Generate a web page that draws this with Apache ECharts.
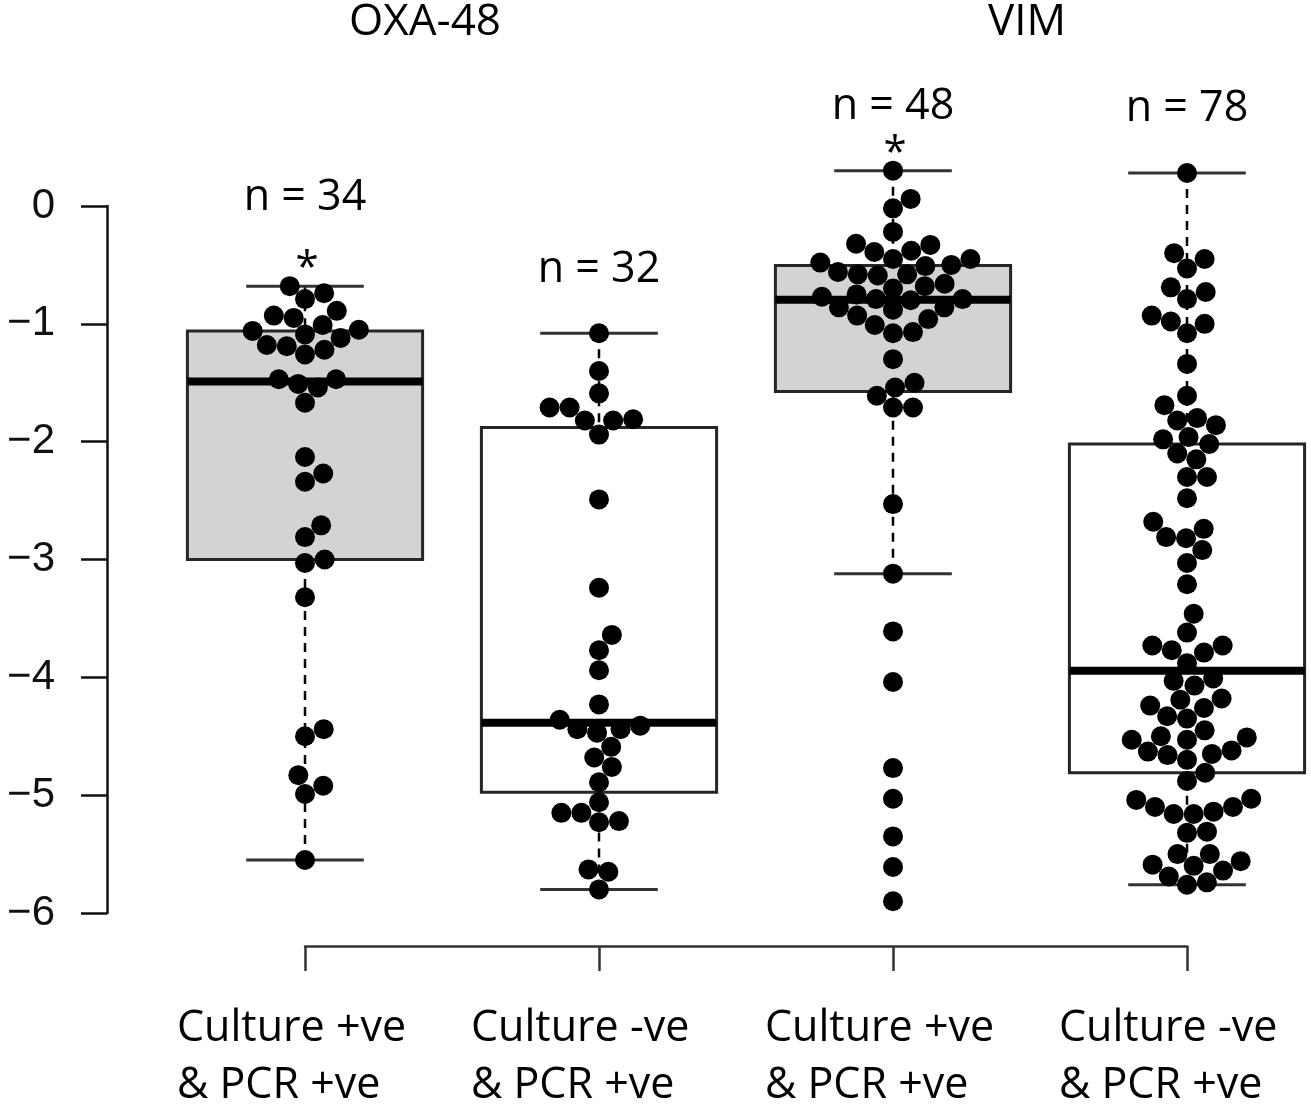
<!DOCTYPE html>
<html>
<head>
<meta charset="utf-8">
<script src="https://cdn.jsdelivr.net/npm/echarts@6/dist/echarts.min.js"></script>
<style>
  html, body { margin: 0; padding: 0; background: #fff; }
  #chart { width: 1311px; height: 1109px; }
</style>
</head>
<body>
<div id="chart"></div>
<script>
// group labels on the x axis
var categories = ['Culture +ve\n& PCR +ve', 'Culture -ve\n& PCR +ve', 'Culture +ve\n& PCR +ve', 'Culture -ve\n& PCR +ve'];
var panelTitles = ['OXA-48', 'VIM'];
var stars = ['*', '', '*', ''];
var boxFills = ['#d3d3d3', '#ffffff', '#d3d3d3', '#ffffff'];
var nLabelGap = [88, 64, 64, 64];
var yTicks = [0, -1, -2, -3, -4, -5, -6];

// values (log scale)
var oxaCulturePos = [
  -0.68, -0.74, -0.79, -0.89, -0.93, -0.95, -1.01, -1.05, -1.06, -1.09, -1.12,
  -1.18, -1.19, -1.22, -1.26, -1.47, -1.47, -1.51, -1.54, -1.67, -2.13, -2.27,
  -2.34, -2.71, -2.81, -3.00, -3.03, -3.32, -4.44, -4.50, -4.83, -4.92, -4.99, -5.55
];
var oxaCultureNeg = [
  -1.08, -1.40, -1.59, -1.71, -1.71, -1.81, -1.82, -1.82, -1.94, -2.49, -3.24,
  -3.64, -3.77, -3.94, -4.23, -4.36, -4.41, -4.44, -4.44, -4.47, -4.59, -4.68,
  -4.76, -4.89, -5.06, -5.15, -5.15, -5.22, -5.23, -5.63, -5.65, -5.80
];
var vimCulturePos = [
  0.30, 0.06, -0.02, -0.22, -0.32, -0.33, -0.38, -0.39, -0.45, -0.45, -0.48,
  -0.50, -0.51, -0.56, -0.58, -0.58, -0.59, -0.66, -0.68, -0.70, -0.75, -0.77,
  -0.79, -0.79, -0.80, -0.86, -0.86, -0.88, -0.93, -0.96, -1.01, -1.07, -1.08,
  -1.30, -1.50, -1.54, -1.61, -1.71, -1.71, -2.53, -3.12, -3.61, -4.04, -4.77,
  -5.03, -5.35, -5.61, -5.90
];
var vimCultureNeg = [
  0.28, -0.40, -0.45, -0.53, -0.69, -0.73, -0.79, -0.93, -0.98, -1.00, -1.08,
  -1.34, -1.61, -1.69, -1.80, -1.82, -1.86, -1.96, -1.98, -2.02, -2.10, -2.15,
  -2.30, -2.30, -2.48, -2.68, -2.74, -2.81, -2.82, -2.92, -3.03, -3.21, -3.46,
  -3.62, -3.73, -3.73, -3.77, -3.79, -3.88, -4.01, -4.03, -4.07, -4.18, -4.19,
  -4.24, -4.26, -4.33, -4.35, -4.45, -4.50, -4.51, -4.53, -4.53, -4.62, -4.63,
  -4.65, -4.66, -4.70, -4.81, -4.88, -5.03, -5.04, -5.10, -5.10, -5.14, -5.16,
  -5.16, -5.31, -5.32, -5.50, -5.50, -5.56, -5.59, -5.60, -5.64, -5.69, -5.74,
  -5.76
];
var groups = [oxaCulturePos, oxaCultureNeg, vimCulturePos, vimCultureNeg];

// scale of the data grid (pixels per unit), used for the swarm layout
var PX_X = 294;
var PX_Y = 707 / 6;
var DOT = 20;

// R style boxplot.stats (Tukey hinges, 1.5 IQR whiskers)
function fivenum(x) {
  var s = x.slice().sort(function (a, b) { return a - b; });
  var n = s.length;
  var n4 = Math.floor((n + 3) / 2) / 2;
  var d = [1, n4, (n + 1) / 2, n + 1 - n4, n];
  return d.map(function (v) {
    return 0.5 * (s[Math.floor(v) - 1] + s[Math.ceil(v) - 1]);
  });
}
function boxStats(x) {
  var f = fivenum(x);
  var iqr = f[3] - f[1];
  var lo = Math.min.apply(null, x.filter(function (v) { return v >= f[1] - 1.5 * iqr; }));
  var hi = Math.max.apply(null, x.filter(function (v) { return v <= f[3] + 1.5 * iqr; }));
  return [lo, f[1], f[2], f[3], hi];
}

// simple beeswarm: each point goes to the free spot nearest the centre line
function swarm(values) {
  var order = values.map(function (v, i) { return i; })
    .sort(function (a, b) { return values[a] - values[b]; });
  var placed = [];
  var out = [];
  order.forEach(function (i) {
    var y = values[i] * PX_Y;
    var cands = [0];
    placed.forEach(function (p) {
      var dy = Math.abs(p.y - y);
      if (dy < DOT) {
        var dx = Math.sqrt(DOT * DOT - dy * dy);
        cands.push(p.x + dx, p.x - dx);
      }
    });
    cands.sort(function (a, b) { return Math.abs(a) - Math.abs(b); });
    var best = 0;
    for (var k = 0; k < cands.length; k++) {
      var c = cands[k];
      var ok = placed.every(function (p) {
        return (p.x - c) * (p.x - c) + (p.y - y) * (p.y - y) >= DOT * DOT - 0.01;
      });
      if (ok) { best = c; break; }
    }
    placed.push({ x: best, y: y });
    out[i] = best / PX_X;
  });
  return out;
}

var boxData = [];
var dotData = [];
var noteData = [];
groups.forEach(function (vals, g) {
  var st = boxStats(vals);
  boxData.push([g + 1].concat(st).concat([g]));
  var offs = swarm(vals);
  vals.forEach(function (v, i) { dotData.push([g + 1 + offs[i], v]); });
  noteData.push([g + 1, st[4], g]);
});

var chart = echarts.init(document.getElementById('chart'));

var calibri = '"Open Sans", sans-serif';
var arial = '"Liberation Sans", Arial, sans-serif';

var option = {
  backgroundColor: '#ffffff',
  animation: false,
  grid: [
    // y axis only
    { left: 107, width: 10, top: 206, bottom: 196, outerBoundsMode: 'none' },
    // data
    { left: 11, right: 0, top: 206 - PX_Y, bottom: 1109 - 913 - PX_Y, outerBoundsMode: 'none' },
    // bottom axis line + ticks
    { left: 305, right: 124, top: 900, bottom: 163, outerBoundsMode: 'none' },
    // bottom labels, left aligned blocks
    { left: 177, right: 252, top: 900, bottom: 163, outerBoundsMode: 'none' }
  ],
  xAxis: [
    { gridIndex: 0, type: 'value', show: false },
    { gridIndex: 1, type: 'value', min: 0, max: 1300 / PX_X, show: false },
    {
      gridIndex: 2, type: 'category', data: categories, boundaryGap: false,
      axisLine: { lineStyle: { color: '#333', width: 2.5 } },
      axisTick: { length: 25, interval: 0, lineStyle: { color: '#333', width: 2.5 } },
      axisLabel: { show: false }
    },
    {
      gridIndex: 3, type: 'category', data: categories, boundaryGap: false,
      axisLine: { show: false }, axisTick: { show: false },
      axisLabel: {
        interval: 0, hideOverlap: false,
        align: 'left', margin: 54, fontFamily: calibri, fontSize: 43,
        lineHeight: 57, color: '#000'
      }
    }
  ],
  yAxis: [
    {
      gridIndex: 0, type: 'value', min: yTicks[yTicks.length - 1], max: yTicks[0], interval: 1,
      splitLine: { show: false },
      axisLine: { show: true, lineStyle: { color: '#111', width: 2.5 } },
      axisTick: { show: true, length: 26, lineStyle: { color: '#111', width: 2.5 } },
      axisLabel: {
        margin: 52, fontFamily: arial, fontSize: 42, color: '#111',
        formatter: function (v) { return v < 0 ? '\u2212' + Math.abs(v) : String(v); }
      }
    },
    { gridIndex: 1, type: 'value', min: -7, max: 1, show: false },
    { gridIndex: 2, type: 'value', show: false },
    { gridIndex: 3, type: 'value', show: false }
  ],
  graphic: [
    {
      type: 'text', x: 425, y: 22,
      style: { text: panelTitles[0], fontFamily: calibri, fontSize: 44, fill: '#000',
        textAlign: 'center', textVerticalAlign: 'middle' }
    },
    {
      type: 'text', x: 1027, y: 22,
      style: { text: panelTitles[1], fontFamily: calibri, fontSize: 44, fill: '#000',
        textAlign: 'center', textVerticalAlign: 'middle' }
    }
  ],
  series: [
    {
      type: 'custom',
      xAxisIndex: 1, yAxisIndex: 1,
      data: boxData,
      z: 1,
      renderItem: function (params, api) {
        var x = api.value(0);
        var lo = api.value(1), q1 = api.value(2), med = api.value(3), q3 = api.value(4), hi = api.value(5);
        var g = api.value(6);
        var pLo = api.coord([x, lo]), pQ1 = api.coord([x, q1]), pMed = api.coord([x, med]);
        var pQ3 = api.coord([x, q3]), pHi = api.coord([x, hi]);
        var half = 0.4 * PX_X, cap = 0.2 * PX_X;
        var dash = { stroke: '#000', lineWidth: 2.5, lineDash: [9, 7] };
        var capStyle = { stroke: '#333', lineWidth: 3 };
        return {
          type: 'group',
          children: [
            { type: 'line', shape: { x1: pHi[0], y1: pHi[1], x2: pQ3[0], y2: pQ3[1] }, style: dash },
            { type: 'line', shape: { x1: pLo[0], y1: pLo[1], x2: pQ1[0], y2: pQ1[1] }, style: dash },
            { type: 'line', shape: { x1: pHi[0] - cap, y1: pHi[1], x2: pHi[0] + cap, y2: pHi[1] }, style: capStyle },
            { type: 'line', shape: { x1: pLo[0] - cap, y1: pLo[1], x2: pLo[0] + cap, y2: pLo[1] }, style: capStyle },
            {
              type: 'rect',
              shape: { x: pQ3[0] - half, y: pQ3[1], width: 2 * half, height: pQ1[1] - pQ3[1] },
              style: { fill: boxFills[g], stroke: '#262626', lineWidth: 3 }
            },
            {
              type: 'line',
              shape: { x1: pMed[0] - half, y1: pMed[1], x2: pMed[0] + half, y2: pMed[1] },
              style: { stroke: '#000', lineWidth: 8 }
            }
          ]
        };
      }
    },
    {
      type: 'scatter',
      xAxisIndex: 1, yAxisIndex: 1,
      data: dotData,
      symbol: 'circle',
      symbolSize: DOT,
      itemStyle: { color: '#000', opacity: 1 },
      z: 3
    },
    {
      type: 'custom',
      xAxisIndex: 1, yAxisIndex: 1,
      data: noteData,
      z: 4,
      renderItem: function (params, api) {
        var g = api.value(2);
        var p = api.coord([api.value(0), api.value(1)]);
        var star = stars[g];
        var kids = [{
          type: 'text', x: p[0], y: p[1] - nLabelGap[g],
          style: { text: 'n = ' + groups[g].length, fontFamily: calibri, fontSize: 43,
            fill: '#000', textAlign: 'center', textVerticalAlign: 'middle' }
        }];
        if (star) {
          kids.push({
            type: 'text', x: p[0] + 2, y: p[1] - 17,
            style: { text: star, fontFamily: calibri, fontSize: 42, fill: '#000',
              textAlign: 'center', textVerticalAlign: 'middle' }
          });
        }
        return { type: 'group', children: kids };
      }
    }
  ]
};

chart.setOption(option);
</script>
</body>
</html>
